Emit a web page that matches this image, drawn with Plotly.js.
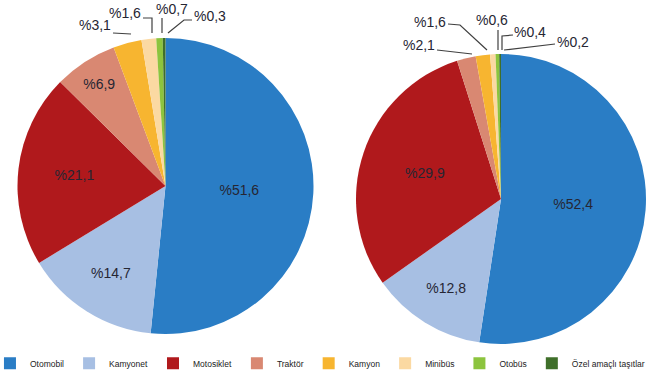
<!DOCTYPE html>
<html>
<head>
<meta charset="utf-8">
<script src="https://cdn.plot.ly/plotly-3.0.1.min.js"></script>
<style>html,body{margin:0;padding:0;background:#fff;}#chart{width:669px;height:374px;}</style>
</head>
<body>
<div id="chart"></div>
<script>
// Data
const categories = ["Otomobil", "Kamyonet", "Motosiklet", "Traktör", "Kamyon", "Minibüs", "Otobüs", "Özel amaçlı taşıtlar"];
const valuesLeft = [51.6, 14.7, 21.1, 6.9, 3.1, 1.6, 0.7, 0.3];
const valuesRight = [52.4, 12.8, 29.9, 2.1, 1.6, 0.6, 0.4, 0.2];
const sliceColors = ["#2a7dc5", "#a7bfe3", "#b0191c", "#d98872", "#f7b530", "#fbd9a2", "#8cc43e", "#3f6f2a"];

const fmt = v => "%" + v.toFixed(1).replace(".", ",");
const W = 669, H = 374;
const px = x => x / W, py = y => 1 - y / H;

function pieTrace(values, cx, cy, r, showlegend) {
  return {
    type: "pie",
    labels: categories,
    values: values,
    text: values.map(fmt),
    texttemplate: values.map(v => v >= 5 ? "%{text}" : ""),
    textinfo: "text",
    textposition: "inside",
    insidetextorientation: "horizontal",
    insidetextfont: {family: "Liberation Sans, Arial, sans-serif", size: 14, color: "#262633"},
    sort: false,
    direction: "clockwise",
    rotation: 0,
    showlegend: showlegend,
    marker: {colors: sliceColors, line: {width: 0}},
    hoverinfo: "label+percent",
    domain: {x: [px(cx - r), px(cx + r)], y: [py(cy + r), py(cy - r)]}
  };
}

const data = [
  pieTrace(valuesLeft, 165.5, 186, 148, true),
  pieTrace(valuesRight, 501, 199, 145, false)
];

// small-slice labels (outside) with leader lines
const smallLabels = [
  {t: fmt(valuesLeft[4]), x: 95, y: 25, line: [[113, 33], [131, 34]]},
  {t: fmt(valuesLeft[5]), x: 125, y: 13, line: [[143, 18], [152, 18], [152, 33]]},
  {t: fmt(valuesLeft[6]), x: 172, y: 9, line: [[162, 18], [162, 33]]},
  {t: fmt(valuesLeft[7]), x: 210, y: 16, line: [[192, 20], [184, 20], [168, 33]]},
  {t: fmt(valuesRight[3]), x: 419, y: 45, line: [[437, 50], [472, 54]]},
  {t: fmt(valuesRight[4]), x: 430, y: 22, line: [[448, 24], [460, 25], [487, 50]]},
  {t: fmt(valuesRight[5]), x: 492, y: 20, line: [[498, 30], [498, 50]]},
  {t: fmt(valuesRight[6]), x: 530, y: 32, line: [[513, 35], [502, 36], [502, 50]]},
  {t: fmt(valuesRight[7]), x: 573, y: 42, line: [[555, 44], [504, 50]]}
];

const annotations = smallLabels.map(s => ({
  text: s.t, x: px(s.x), y: py(s.y), xref: "paper", yref: "paper",
  showarrow: false, xanchor: "center", yanchor: "middle",
  font: {family: "Liberation Sans, Arial, sans-serif", size: 14, color: "#262633"}
}));

const shapes = smallLabels.map(s => ({
  type: "path", xref: "paper", yref: "paper",
  path: s.line.map((p, i) => (i ? "L" : "M") + px(p[0]) + "," + py(p[1])).join(" "),
  line: {color: "#404040", width: 1.2}
}));

const layout = {
  width: W, height: H,
  margin: {l: 0, r: 0, t: 0, b: 0, autoexpand: false},
  paper_bgcolor: "#ffffff",
  showlegend: true,
  legend: {
    orientation: "h", x: -0.015, y: -0.01, xanchor: "left", yanchor: "bottom",
    font: {family: "Liberation Sans, Arial, sans-serif", size: 8.5, color: "#222"},
    itemwidth: 30,
    tracegroupgap: 0, bgcolor: "rgba(0,0,0,0)", borderwidth: 0
  },
  annotations: annotations,
  shapes: shapes
};

Plotly.newPlot("chart", data, layout, {displayModeBar: false, staticPlot: true});
</script>
</body>
</html>
